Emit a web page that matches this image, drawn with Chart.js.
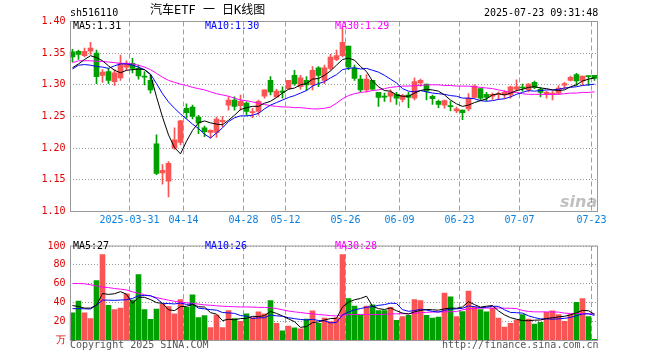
<!DOCTYPE html>
<html>
<head>
<meta charset="utf-8">
<script src="https://cdn.jsdelivr.net/npm/chart.js@4.4.1/dist/chart.umd.min.js"></script>
<style>
    body { margin: 0; background: #fff; }
    #wrap { position: relative; width: 660px; height: 360px; font-family: 'DejaVu Sans Mono', monospace; font-size: 10px; }
    canvas { position: absolute; left: 0; }
    .t { position: absolute; white-space: pre; line-height: 12px; }
</style>
</head>
<body>
<div id="wrap">
    <canvas id="price" width="660" height="236" style="top:0"></canvas>
    <canvas id="volume" width="660" height="124" style="top:236px"></canvas>

    <div class="t" style="left:70px;top:7px">sh516110</div>
    <div class="t" style="left:150px;top:3px;font-size:12px;line-height:14px;font-family:'DejaVu Sans Mono','Noto Sans CJK SC'">汽车ETF 一 日K线图</div>
    <div class="t" style="left:484px;top:7px">2025-07-23 09:31:48</div>

    <div class="t" style="left:73px;top:20px;color:#000">MA5:1.31</div>
    <div class="t" style="left:205px;top:20px;color:#0000ff">MA10:1.30</div>
    <div class="t" style="left:335px;top:20px;color:#ff00ff">MA30:1.29</div>

    <div class="t" style="left:73px;top:240px;color:#000">MA5:27</div>
    <div class="t" style="left:205px;top:240px;color:#0000ff">MA10:26</div>
    <div class="t" style="left:335px;top:240px;color:#ff00ff">MA30:28</div>

    <div class="t" style="left:560px;top:192px;font:italic bold 16px 'DejaVu Sans';color:rgba(140,140,140,0.55)">sina</div>

    <div class="t" style="left:70px;top:339px;color:#555">Copyright 2025 SINA.COM</div>
    <div class="t" style="left:442px;top:339px;color:#555">http://finance.sina.com.cn</div>
</div>

<script>
const dates = [
    '2025-03-17','2025-03-18','2025-03-19','2025-03-20','2025-03-21','2025-03-24','2025-03-25','2025-03-26','2025-03-27','2025-03-28',
    '2025-03-31','2025-04-01','2025-04-02','2025-04-03','2025-04-07','2025-04-08','2025-04-09','2025-04-10','2025-04-11','2025-04-14',
    '2025-04-15','2025-04-16','2025-04-17','2025-04-18','2025-04-21','2025-04-22','2025-04-23','2025-04-24','2025-04-25','2025-04-28',
    '2025-04-29','2025-04-30','2025-05-06','2025-05-07','2025-05-08','2025-05-09','2025-05-12','2025-05-13','2025-05-14','2025-05-15',
    '2025-05-16','2025-05-19','2025-05-20','2025-05-21','2025-05-22','2025-05-23','2025-05-26','2025-05-27','2025-05-28','2025-05-29',
    '2025-05-30','2025-06-03','2025-06-04','2025-06-05','2025-06-06','2025-06-09','2025-06-10','2025-06-11','2025-06-12','2025-06-13',
    '2025-06-16','2025-06-17','2025-06-18','2025-06-19','2025-06-20','2025-06-23','2025-06-24','2025-06-25','2025-06-26','2025-06-27',
    '2025-06-30','2025-07-01','2025-07-02','2025-07-03','2025-07-04','2025-07-07','2025-07-08','2025-07-09','2025-07-10','2025-07-11',
    '2025-07-14','2025-07-15','2025-07-16','2025-07-17','2025-07-18','2025-07-21','2025-07-22','2025-07-23'
];
const tickDates = ['2025-03-31', '2025-04-14', '2025-04-28', '2025-05-12', '2025-05-26', '2025-06-09', '2025-06-23', '2025-07-07', '2025-07-23'];

const opens = [
    1.352, 1.353, 1.346, 1.353, 1.350, 1.315, 1.321, 1.305, 1.311, 1.328,
    1.334, 1.326, 1.314, 1.307, 1.207, 1.161, 1.148, 1.200, 1.209, 1.263,
    1.265, 1.249, 1.232, 1.225, 1.225, 1.242, 1.268, 1.276, 1.267, 1.271,
    1.256, 1.258, 1.282, 1.307, 1.281, 1.290, 1.294, 1.315, 1.297, 1.307,
    1.300, 1.327, 1.307, 1.326, 1.340, 1.346, 1.361, 1.326, 1.309, 1.292,
    1.307, 1.288, 1.2815, 1.282, 1.285, 1.277, 1.284, 1.279, 1.303, 1.301,
    1.282, 1.274, 1.268, 1.267, 1.259, 1.260, 1.262, 1.280, 1.294, 1.285,
    1.282, 1.2845, 1.284, 1.284, 1.293, 1.2965, 1.292, 1.304, 1.293, 1.285,
    1.2855, 1.2865, 1.2995, 1.307, 1.316, 1.306, 1.314, 1.315
];
const closes = [
    1.344, 1.348, 1.353, 1.358, 1.313, 1.320, 1.307, 1.319, 1.334, 1.334,
    1.326, 1.314, 1.312, 1.292, 1.160, 1.165, 1.176, 1.213, 1.243, 1.256,
    1.250, 1.240, 1.226, 1.228, 1.246, 1.244, 1.276, 1.266, 1.274, 1.258,
    1.257, 1.274, 1.292, 1.289, 1.290, 1.288, 1.307, 1.302, 1.311, 1.300,
    1.323, 1.315, 1.327, 1.344, 1.346, 1.367, 1.328, 1.310, 1.292, 1.309,
    1.293, 1.280, 1.2805, 1.288, 1.279, 1.283, 1.280, 1.305, 1.307, 1.290,
    1.278, 1.269, 1.275, 1.2655, 1.262, 1.256, 1.279, 1.298, 1.279, 1.280,
    1.285, 1.2855, 1.288, 1.297, 1.297, 1.295, 1.301, 1.296, 1.288, 1.288,
    1.286, 1.295, 1.302, 1.312, 1.306, 1.314, 1.313, 1.310
];
const highs = [
    1.356, 1.355, 1.358, 1.367, 1.355, 1.324, 1.326, 1.324, 1.347, 1.338,
    1.342, 1.331, 1.321, 1.315, 1.221, 1.174, 1.179, 1.232, 1.244, 1.270,
    1.268, 1.252, 1.235, 1.229, 1.249, 1.250, 1.281, 1.281, 1.284, 1.273,
    1.263, 1.276, 1.292, 1.313, 1.293, 1.297, 1.307, 1.323, 1.315, 1.313,
    1.329, 1.329, 1.331, 1.348, 1.355, 1.390, 1.361, 1.331, 1.315, 1.316,
    1.307, 1.288, 1.287, 1.292, 1.288, 1.285, 1.288, 1.311, 1.309, 1.301,
    1.284, 1.276, 1.276, 1.274, 1.265, 1.260, 1.286, 1.300, 1.294, 1.288,
    1.287, 1.289, 1.291, 1.298, 1.308, 1.301, 1.302, 1.306, 1.296, 1.290,
    1.290, 1.299, 1.304, 1.314, 1.318, 1.314, 1.314, 1.315
];
const lows = [
    1.336, 1.340, 1.344, 1.348, 1.302, 1.304, 1.302, 1.299, 1.307, 1.323,
    1.319, 1.309, 1.300, 1.287, 1.158, 1.143, 1.123, 1.198, 1.205, 1.247,
    1.246, 1.223, 1.218, 1.216, 1.217, 1.234, 1.260, 1.260, 1.260, 1.252,
    1.248, 1.252, 1.279, 1.284, 1.280, 1.279, 1.293, 1.299, 1.293, 1.291,
    1.292, 1.297, 1.302, 1.323, 1.338, 1.344, 1.324, 1.307, 1.289, 1.289,
    1.292, 1.266, 1.274, 1.273, 1.269, 1.273, 1.264, 1.276, 1.298, 1.276,
    1.269, 1.264, 1.263, 1.259, 1.256, 1.245, 1.259, 1.279, 1.276, 1.275,
    1.277, 1.277, 1.279, 1.279, 1.290, 1.290, 1.289, 1.294, 1.281, 1.279,
    1.276, 1.285, 1.294, 1.306, 1.299, 1.299, 1.299, 1.307
];
const ma5 = [
    1.327, 1.333, 1.340, 1.346, 1.343, 1.338, 1.330, 1.323, 1.319, 1.323,
    1.324, 1.325, 1.324, 1.316, 1.281, 1.249, 1.221, 1.201, 1.191, 1.211,
    1.228, 1.240, 1.243, 1.240, 1.238, 1.237, 1.244, 1.252, 1.261, 1.264,
    1.266, 1.266, 1.271, 1.274, 1.280, 1.287, 1.293, 1.295, 1.300, 1.302,
    1.309, 1.310, 1.315, 1.322, 1.331, 1.340, 1.342, 1.339, 1.329, 1.321,
    1.306, 1.297, 1.291, 1.290, 1.284, 1.282, 1.282, 1.287, 1.291, 1.293,
    1.292, 1.290, 1.284, 1.276, 1.270, 1.266, 1.268, 1.272, 1.275, 1.278,
    1.284, 1.286, 1.284, 1.287, 1.291, 1.293, 1.296, 1.297, 1.295, 1.294,
    1.292, 1.291, 1.292, 1.297, 1.300, 1.306, 1.309, 1.311
];
const ma10 = [
    1.325, 1.331, 1.332, 1.331, 1.329, 1.328, 1.326, 1.330, 1.333, 1.333,
    1.331, 1.328, 1.324, 1.317, 1.302, 1.286, 1.273, 1.263, 1.254, 1.246,
    1.238, 1.231, 1.222, 1.216, 1.224, 1.232, 1.242, 1.248, 1.251, 1.251,
    1.252, 1.255, 1.262, 1.268, 1.272, 1.276, 1.280, 1.283, 1.287, 1.291,
    1.298, 1.302, 1.305, 1.311, 1.316, 1.324, 1.326, 1.327, 1.325, 1.326,
    1.323, 1.320, 1.315, 1.309, 1.303, 1.294, 1.290, 1.289, 1.291, 1.289,
    1.287, 1.286, 1.285, 1.283, 1.282, 1.279, 1.279, 1.278, 1.275, 1.274,
    1.275, 1.277, 1.278, 1.281, 1.285, 1.288, 1.291, 1.290, 1.291, 1.292,
    1.292, 1.293, 1.295, 1.296, 1.297, 1.299, 1.300, 1.301
];
const ma30 = [
    1.335, 1.338, 1.338, 1.338, 1.337, 1.337, 1.336, 1.335, 1.334, 1.334,
    1.333, 1.331, 1.328, 1.324, 1.318, 1.312, 1.307, 1.304, 1.301, 1.299,
    1.296, 1.294, 1.292, 1.289, 1.286, 1.284, 1.282, 1.279, 1.276, 1.275,
    1.273, 1.271, 1.269, 1.267, 1.266, 1.265, 1.265, 1.264, 1.264, 1.263,
    1.262, 1.262, 1.263, 1.265, 1.271, 1.278, 1.283, 1.286, 1.288, 1.289,
    1.291, 1.292, 1.294, 1.296, 1.297, 1.298, 1.298, 1.299, 1.299, 1.300,
    1.300, 1.300, 1.299, 1.299, 1.298, 1.298, 1.298, 1.297, 1.296, 1.295,
    1.294, 1.292, 1.290, 1.288, 1.288, 1.286, 1.285, 1.285, 1.285, 1.285,
    1.285, 1.285, 1.286, 1.287, 1.287, 1.288, 1.288, 1.289
];

// volume, 万手
const volumes = [
    29.3, 41.7, 29.3, 23.3, 63.3, 91.0, 37.3, 32.7, 34.3, 49.3,
    42.7, 69.7, 32.7, 22.3, 33.3, 38.3, 36.0, 28.3, 43.3, 35.0,
    48.3, 24.3, 26.3, 13.7, 27.0, 13.7, 31.7, 23.3, 20.3, 28.3,
    24.3, 30.3, 28.3, 42.3, 18.3, 10.3, 15.3, 13.3, 12.3, 22.7,
    31.3, 18.3, 23.7, 20.0, 24.0, 91.0, 44.3, 36.3, 26.7, 36.3,
    37.7, 31.7, 31.7, 35.0, 21.3, 25.3, 26.7, 43.3, 42.3, 26.7,
    23.7, 24.7, 50.3, 46.3, 25.3, 30.7, 52.3, 35.3, 32.7, 30.3,
    34.3, 23.7, 14.3, 18.3, 21.7, 27.3, 22.7, 17.3, 19.3, 29.7,
    31.3, 27.3, 20.3, 27.3, 40.3, 44.3, 25.3, 1.3
];
const vma5 = [
    37.0, 36.0, 34.3, 34.3, 37.4, 49.7, 48.8, 49.5, 51.7, 48.9,
    39.3, 45.7, 45.7, 43.3, 40.1, 39.3, 32.5, 31.6, 35.8, 36.2,
    38.2, 35.8, 35.4, 29.5, 27.9, 21.0, 22.5, 21.9, 23.2, 23.5,
    25.6, 25.3, 26.3, 30.7, 28.7, 25.9, 22.9, 19.9, 13.9, 14.8,
    19.0, 19.6, 21.7, 23.2, 23.5, 35.4, 40.6, 43.1, 44.5, 46.9,
    36.3, 33.7, 32.8, 34.5, 31.5, 29.0, 28.0, 30.3, 31.8, 32.9,
    32.5, 32.1, 33.5, 34.3, 34.1, 35.5, 41.0, 38.0, 35.3, 36.3,
    37.0, 31.3, 27.1, 24.2, 22.5, 21.1, 20.9, 21.5, 21.7, 23.3,
    24.1, 25.0, 25.6, 27.2, 29.3, 31.9, 31.5, 27.7
];
const vma10 = [
    33.7, 33.7, 33.5, 33.3, 37.5, 42.7, 42.7, 42.5, 42.8, 43.2,
    44.5, 47.3, 47.6, 47.5, 44.5, 39.3, 39.1, 38.7, 39.6, 38.2,
    38.7, 34.2, 33.5, 32.7, 32.1, 29.6, 29.2, 28.7, 26.4, 25.7,
    23.3, 23.9, 24.1, 27.0, 26.1, 25.7, 24.1, 23.1, 22.3, 21.7,
    22.4, 21.2, 20.8, 18.6, 19.1, 27.2, 30.1, 32.4, 33.8, 35.2,
    35.8, 37.2, 38.0, 39.5, 39.2, 32.6, 30.9, 31.6, 33.1, 32.2,
    30.8, 30.1, 31.9, 33.1, 33.5, 34.0, 36.6, 35.8, 34.8, 35.2,
    36.2, 36.1, 32.5, 29.7, 29.4, 29.0, 26.1, 24.3, 22.9, 22.9,
    22.6, 22.9, 23.5, 24.4, 26.3, 28.0, 28.2, 26.6
];
const vma30 = [
    60.3, 60.3, 60.0, 59.0, 57.7, 56.5, 56.0, 55.0, 54.3, 53.5,
    51.5, 50.0, 48.5, 47.0, 45.5, 44.0, 42.7, 41.5, 40.5, 40.0,
    39.3, 38.5, 37.7, 37.3, 36.7, 36.3, 36.0, 35.7, 35.5, 35.5,
    35.3, 35.1, 35.0, 34.6, 33.8, 32.5, 31.2, 30.3, 29.6, 28.8,
    28.2, 27.5, 27.0, 26.3, 26.0, 26.8, 27.3, 27.5, 27.5, 27.5,
    27.4, 27.5, 27.7, 28.2, 28.2, 28.4, 28.4, 28.8, 29.4, 29.8,
    30.1, 30.2, 30.3, 30.4, 30.6, 32.5, 33.5, 34.0, 34.2, 34.3,
    34.3, 34.4, 34.2, 34.1, 33.8, 31.7, 30.8, 30.3, 30.3, 30.3,
    30.2, 30.0, 29.0, 28.6, 28.6, 28.5, 28.3, 28.3
];

const RED = '#fa5555';
const GREEN = '#00a000';
const candleColors = opens.map((o, i) => closes[i] > o ? RED : GREEN);

const monoFont = { family: "'DejaVu Sans Mono', monospace", size: 10 };

// gray frame around each plot area
const framePlugin = {
    id: 'frame',
    afterDraw(chart) {
        const { ctx, chartArea: a } = chart;
        ctx.save();
        ctx.strokeStyle = '#999';
        ctx.lineWidth = 1;
        ctx.strokeRect(a.left + 1, a.top, a.right - a.left - 1, a.bottom - a.top);
        ctx.restore();
    }
};

const maLine = (data, color) => ({
    type: 'line', data, borderColor: color, borderWidth: 1,
    pointRadius: 0, tension: 0, fill: false, order: 0
});

const xScale = (showLabels, height) => ({
    offset: true,
    grid: {
        offset: true,
        drawTicks: false,
        color: c => tickDates.includes(dates[c.index]) ? '#a0a0a0' : 'rgba(0,0,0,0)'
    },
    border: { display: false, dash: [5, 3] },
    ticks: {
        display: showLabels,
        autoSkip: false,
        maxRotation: 0,
        labelOffset: -3,
        padding: 3,
        color: '#0a80e0',
        font: monoFont,
        callback: (v, i) => {
            const d = dates[i];
            if (!tickDates.includes(d)) return '';
            return d === tickDates[0] ? d : d.slice(5);
        }
    },
    afterFit: s => { s.height = height; }
});

const yScale = (min, max, step, fmt) => ({
    min, max,
    grid: { drawTicks: false, color: '#999' },
    border: { display: false, dash: [1, 2] },
    ticks: { stepSize: step, padding: 4, color: '#e00000', font: monoFont, callback: fmt },
    afterFit: s => { s.width = 69.5; }
});

const baseOptions = {
    responsive: false,
    animation: false,
    devicePixelRatio: 1,
    events: [],
    plugins: { legend: { display: false }, tooltip: { enabled: false } }
};

new Chart(document.getElementById('price'), {
    type: 'bar',
    data: {
        labels: dates,
        datasets: [
            maLine(ma5, '#000000'),
            maLine(ma10, '#0000ff'),
            maLine(ma30, '#ff00ff'),
            {
                data: opens.map((o, i) => [o, closes[i]]),
                backgroundColor: candleColors,
                barThickness: 5, minBarLength: 1, grouped: false, order: 1
            },
            {
                data: lows.map((l, i) => [l, highs[i]]),
                backgroundColor: candleColors,
                barThickness: 1, grouped: false, order: 2
            }
        ]
    },
    options: {
        ...baseOptions,
        layout: { padding: { top: 21.5, right: 62.5, left: 0, bottom: 0 } },
        scales: {
            x: xScale(true, 24.5),
            y: yScale(1.10, 1.40, 0.05, v => v.toFixed(2))
        }
    },
    plugins: [framePlugin]
});

new Chart(document.getElementById('volume'), {
    type: 'bar',
    data: {
        labels: dates,
        datasets: [
            maLine(vma5, '#000000'),
            maLine(vma10, '#0000ff'),
            maLine(vma30, '#ff00ff'),
            {
                data: volumes,
                backgroundColor: candleColors,
                barThickness: 5, grouped: false, order: 1
            }
        ]
    },
    options: {
        ...baseOptions,
        layout: { padding: { top: 4.5, right: 62.5, left: 0, bottom: 19.5 } },
        scales: {
            x: xScale(false, 0),
            y: yScale(0, 100, 20, v => v === 0 ? '万' : v)
        }
    },
    plugins: [framePlugin]
});
</script>
</body>
</html>
